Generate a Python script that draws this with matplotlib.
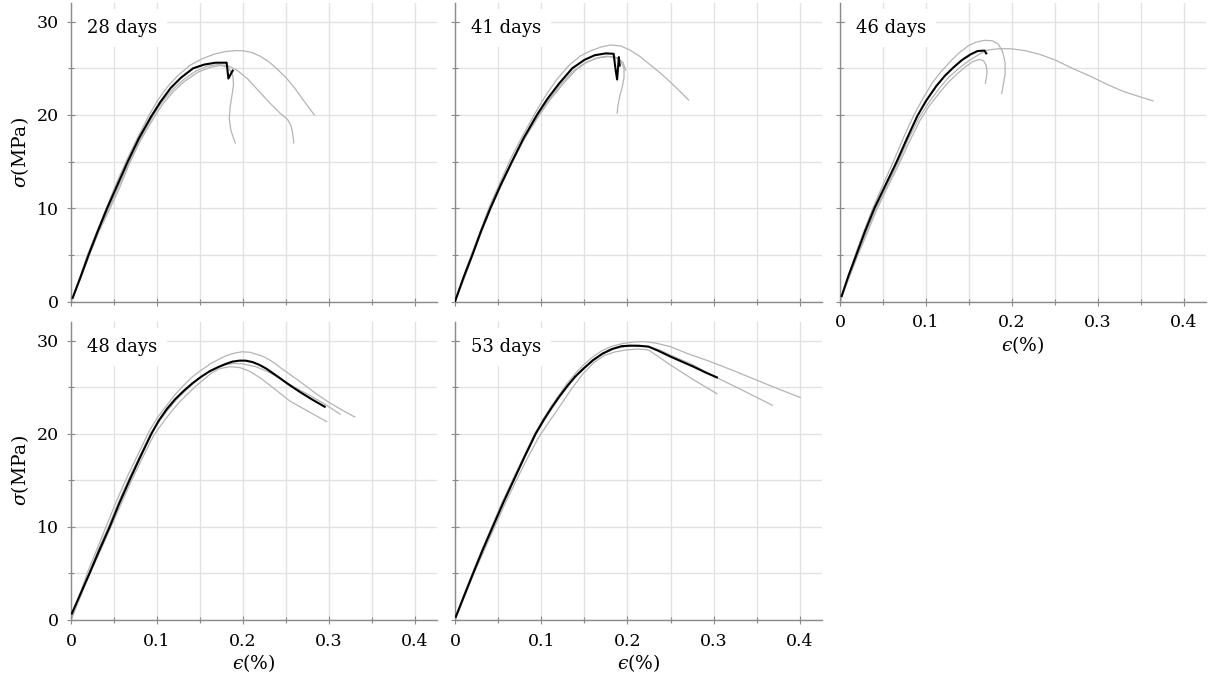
import matplotlib
matplotlib.use("Agg")
import matplotlib.pyplot as plt
from matplotlib.ticker import MultipleLocator

plt.rcParams["font.family"] = "DejaVu Serif"
plt.rcParams["mathtext.fontset"] = "dejavuserif"

# each curve: (strain in %, stress in MPa); "mean" is the black curve
d28_mean = ([0.002, 0.011, 0.0205, 0.031, 0.042, 0.054, 0.066, 0.079, 0.093, 0.104, 0.116, 0.128, 0.142, 0.155, 0.168, 0.181, 0.183, 0.188],
            [0.4, 2.6, 5.0, 7.5, 10.0, 12.5, 15.0, 17.5, 19.8, 21.4, 22.9, 24.0, 25.0, 25.4, 25.6, 25.6, 23.9, 24.75])
d28_a = ([0.0, 0.010, 0.019, 0.030, 0.041, 0.052, 0.064, 0.077, 0.091, 0.101, 0.113, 0.124, 0.138, 0.152, 0.166, 0.180, 0.192, 0.200, 0.210, 0.220, 0.230, 0.240, 0.250, 0.260, 0.270, 0.283],
         [0.0, 2.5, 5.0, 7.5, 10.0, 12.5, 15.0, 17.5, 20.0, 21.6, 23.1, 24.2, 25.3, 26.0, 26.5, 26.8, 26.9, 26.88, 26.7, 26.3, 25.7, 24.9, 24.0, 22.9, 21.6, 20.0])
d28_b = ([0.0, 0.011, 0.021, 0.032, 0.044, 0.056, 0.068, 0.081, 0.096, 0.106, 0.119, 0.131, 0.145, 0.158, 0.170, 0.182, 0.193, 0.205, 0.218, 0.231, 0.243, 0.252, 0.256, 0.258, 0.259],
         [0.0, 2.5, 5.0, 7.5, 10.0, 12.5, 15.0, 17.5, 20.0, 21.4, 22.8, 23.8, 24.7, 25.2, 25.4, 25.3, 24.8, 23.9, 22.6, 21.3, 20.2, 19.5, 18.8, 17.9, 17.0])
d28_c = ([0.0, 0.011, 0.021, 0.032, 0.045, 0.057, 0.068, 0.081, 0.097, 0.107, 0.120, 0.132, 0.148, 0.162, 0.174, 0.183, 0.188, 0.189, 0.187, 0.185, 0.184, 0.186, 0.191],
         [0.0, 2.4, 4.9, 7.4, 9.9, 12.3, 14.8, 17.3, 19.8, 21.2, 22.6, 23.6, 24.6, 25.1, 25.3, 25.1, 24.3, 23.2, 22.0, 20.8, 19.6, 18.3, 17.0])

d41_mean = ([0.0, 0.010, 0.021, 0.030, 0.041, 0.053, 0.066, 0.0795, 0.095, 0.107, 0.121, 0.136, 0.150, 0.162, 0.175, 0.184, 0.186, 0.188, 0.190, 0.191],
            [0.0, 2.6, 5.2, 7.5, 10.0, 12.5, 15.0, 17.5, 20.0, 21.7, 23.4, 25.0, 25.9, 26.4, 26.6, 26.55, 25.0, 23.8, 26.2, 25.3])
d41_a = ([0.0, 0.010, 0.020, 0.030, 0.040, 0.052, 0.064, 0.078, 0.093, 0.104, 0.118, 0.132, 0.145, 0.158, 0.170, 0.180, 0.192, 0.203, 0.214, 0.226, 0.238, 0.250, 0.260, 0.271],
         [0.0, 2.7, 5.3, 7.7, 10.2, 12.7, 15.2, 17.7, 20.2, 21.9, 23.8, 25.3, 26.3, 26.9, 27.3, 27.5, 27.4, 26.95, 26.3, 25.4, 24.5, 23.5, 22.6, 21.6])
d41_b = ([0.0, 0.011, 0.021, 0.031, 0.042, 0.054, 0.067, 0.081, 0.098, 0.110, 0.125, 0.140, 0.152, 0.164, 0.176, 0.186, 0.192, 0.196, 0.196, 0.194, 0.191, 0.189, 0.188],
         [0.0, 2.5, 5.1, 7.5, 10.0, 12.5, 15.0, 17.5, 20.0, 21.6, 23.3, 24.8, 25.6, 26.1, 26.3, 26.2, 25.8, 25.0, 24.0, 23.0, 22.0, 21.0, 20.2])
d41_c = ([0.0, 0.010, 0.021, 0.030, 0.041, 0.053, 0.066, 0.080, 0.097, 0.108, 0.122, 0.137, 0.151, 0.165, 0.178, 0.188, 0.195, 0.198],
         [0.0, 2.6, 5.2, 7.5, 10.0, 12.5, 15.0, 17.5, 20.0, 21.5, 23.2, 24.7, 25.6, 26.1, 26.25, 26.1, 25.6, 24.8])

d46_mean = ([0.002, 0.010, 0.019, 0.029, 0.040, 0.053, 0.066, 0.078, 0.090, 0.100, 0.112, 0.122, 0.132, 0.142, 0.152, 0.160, 0.168, 0.170],
            [0.6, 2.8, 5.0, 7.5, 10.0, 12.5, 15.0, 17.5, 19.9, 21.5, 23.1, 24.2, 25.1, 25.9, 26.5, 26.85, 26.9, 26.6])
d46_a = ([0.0, 0.010, 0.020, 0.030, 0.041, 0.054, 0.067, 0.079, 0.092, 0.103, 0.115, 0.126, 0.137, 0.148, 0.160, 0.171, 0.185, 0.198, 0.215, 0.232, 0.250, 0.270, 0.290, 0.310, 0.330, 0.347, 0.364],
         [0.0, 2.5, 4.9, 7.3, 9.8, 12.3, 14.8, 17.3, 19.7, 21.3, 22.8, 24.0, 24.9, 25.7, 26.4, 26.95, 27.1, 27.1, 26.9, 26.5, 25.9, 25.0, 24.2, 23.3, 22.5, 22.0, 21.5])
d46_b = ([0.0, 0.0095, 0.0185, 0.0285, 0.039, 0.051, 0.063, 0.074, 0.086, 0.096, 0.107, 0.118, 0.129, 0.139, 0.149, 0.158, 0.168, 0.177, 0.184, 0.189, 0.192, 0.192, 0.190, 0.188],
         [0.0, 2.6, 5.2, 7.7, 10.2, 12.7, 15.2, 17.6, 20.0, 21.7, 23.4, 24.7, 25.8, 26.7, 27.4, 27.8, 28.0, 27.95, 27.6, 26.8, 25.6, 24.4, 23.3, 22.3])
d46_c = ([0.0, 0.010, 0.020, 0.031, 0.042, 0.055, 0.068, 0.080, 0.093, 0.104, 0.115, 0.125, 0.135, 0.145, 0.154, 0.162, 0.167, 0.170, 0.171, 0.170, 0.169],
         [0.0, 2.4, 4.8, 7.2, 9.7, 12.2, 14.6, 17.0, 19.4, 21.0, 22.3, 23.4, 24.3, 25.1, 25.7, 25.95, 25.8, 25.3, 24.6, 23.9, 23.4])

d48_mean = ([0.001, 0.011, 0.0215, 0.033, 0.045, 0.056, 0.068, 0.0805, 0.0935, 0.102, 0.111, 0.121, 0.131, 0.141, 0.151, 0.161, 0.171, 0.180, 0.188, 0.196, 0.203, 0.211, 0.219, 0.227, 0.241, 0.253, 0.266, 0.280, 0.295],
            [0.7, 2.8, 5.0, 7.5, 10.0, 12.5, 15.0, 17.5, 20.0, 21.4, 22.6, 23.7, 24.6, 25.4, 26.1, 26.7, 27.15, 27.5, 27.75, 27.85, 27.85, 27.7, 27.4, 27.0, 26.1, 25.3, 24.5, 23.7, 22.9])
d48_a = ([0.0, 0.010, 0.020, 0.031, 0.042, 0.053, 0.065, 0.078, 0.091, 0.101, 0.111, 0.121, 0.131, 0.141, 0.151, 0.162, 0.172, 0.181, 0.190, 0.1985, 0.208, 0.2236, 0.235, 0.245, 0.2663, 0.285, 0.3012, 0.316, 0.330],
         [0.0, 2.7, 5.3, 7.8, 10.3, 12.8, 15.3, 17.8, 20.3, 21.8, 23.0, 24.2, 25.2, 26.1, 26.8, 27.5, 28.0, 28.4, 28.65, 28.8, 28.75, 28.3, 27.7, 27.0, 25.6, 24.3, 23.3, 22.5, 21.8])
d48_b = ([0.0, 0.010, 0.021, 0.032, 0.044, 0.055, 0.067, 0.080, 0.093, 0.103, 0.113, 0.123, 0.133, 0.142, 0.151, 0.161, 0.172, 0.182, 0.190, 0.200, 0.215, 0.228, 0.240, 0.258, 0.272, 0.2856, 0.300, 0.313],
         [0.0, 2.6, 5.1, 7.6, 10.1, 12.6, 15.1, 17.6, 20.1, 21.4, 22.6, 23.7, 24.6, 25.4, 26.1, 26.7, 27.2, 27.45, 27.55, 27.5, 27.2, 26.7, 26.1, 25.1, 24.4, 23.7, 22.9, 22.1])
d48_c = ([0.0, 0.011, 0.022, 0.034, 0.046, 0.058, 0.070, 0.083, 0.096, 0.106, 0.116, 0.126, 0.136, 0.145, 0.154, 0.163, 0.1729, 0.185, 0.1965, 0.208, 0.220, 0.237, 0.2547, 0.276, 0.2973],
         [0.0, 2.5, 5.0, 7.4, 9.9, 12.4, 14.9, 17.4, 19.8, 21.1, 22.3, 23.4, 24.3, 25.1, 25.8, 26.5, 27.0, 27.2, 27.1, 26.7, 26.0, 24.8, 23.5, 22.4, 21.3])

d53_mean = ([0.001, 0.011, 0.021, 0.032, 0.0437, 0.056, 0.068, 0.0805, 0.0935, 0.103, 0.112, 0.121, 0.130, 0.139, 0.149, 0.160, 0.171, 0.182, 0.193, 0.203, 0.213, 0.2243, 0.236, 0.2495, 0.263, 0.2766, 0.290, 0.3037],
            [0.36, 2.7, 5.0, 7.5, 10.0, 12.6, 15.0, 17.5, 20.0, 21.5, 22.8, 24.0, 25.1, 26.1, 27.0, 27.9, 28.6, 29.1, 29.4, 29.46, 29.45, 29.36, 28.9, 28.3, 27.75, 27.2, 26.6, 26.05])
d53_a = ([0.0, 0.010, 0.020, 0.031, 0.043, 0.055, 0.067, 0.080, 0.093, 0.103, 0.112, 0.121, 0.130, 0.139, 0.148, 0.159, 0.170, 0.182, 0.195, 0.207, 0.2185, 0.232, 0.2495, 0.270, 0.296, 0.325, 0.354, 0.378, 0.4003],
         [0.0, 2.6, 5.0, 7.5, 10.1, 12.7, 15.1, 17.6, 20.1, 21.7, 23.0, 24.2, 25.4, 26.4, 27.3, 28.2, 28.9, 29.4, 29.7, 29.85, 29.9, 29.75, 29.36, 28.6, 27.75, 26.7, 25.6, 24.7, 23.9])
d53_b = ([0.0, 0.011, 0.020, 0.032, 0.044, 0.056, 0.068, 0.081, 0.094, 0.104, 0.113, 0.122, 0.131, 0.140, 0.150, 0.161, 0.172, 0.186, 0.200, 0.212, 0.225, 0.237, 0.250, 0.277, 0.304, 0.335, 0.368],
         [0.0, 2.6, 4.9, 7.4, 10.0, 12.6, 15.0, 17.5, 20.0, 21.5, 22.8, 24.0, 25.1, 26.1, 27.0, 27.9, 28.6, 29.15, 29.4, 29.4, 29.35, 29.0, 28.45, 27.35, 26.0, 24.6, 23.06])
d53_c = ([0.0, 0.011, 0.021, 0.033, 0.045, 0.057, 0.070, 0.083, 0.097, 0.107, 0.1219, 0.135, 0.148, 0.1605, 0.173, 0.186, 0.199, 0.212, 0.2243, 0.237, 0.2495, 0.2766, 0.3037],
         [0.0, 2.5, 4.8, 7.3, 9.8, 12.3, 14.8, 17.2, 19.6, 21.0, 23.0, 24.8, 26.4, 27.6, 28.4, 28.8, 29.0, 29.1, 29.0, 28.2, 27.4, 25.8, 24.3])

ages = ["28 days", "41 days", "46 days", "48 days", "53 days"]
means = [d28_mean, d41_mean, d46_mean, d48_mean, d53_mean]
samples = [[d28_a, d28_b, d28_c], [d41_a, d41_b, d41_c], [d46_a, d46_b, d46_c],
           [d48_a, d48_b, d48_c], [d53_a, d53_b, d53_c]]

W, H = 1208, 684
fig = plt.figure(figsize=(W / 100, H / 100), dpi=100)

# panel boxes in pixels: left, top, right, bottom
boxes = [(71, 3, 437, 301.5), (455, 3, 822, 301.5), (840, 3, 1206, 301.5),
         (71, 322, 437, 620), (455, 322, 822, 620)]
ylabel_on = [True, False, False, True, False]
xlabel_on = [False, False, True, True, True]

for i, (l, t, r, b) in enumerate(boxes):
    ax = fig.add_axes([l / W, 1 - b / H, (r - l) / W, (b - t) / H])
    ax.set_xlim(0, 0.4256)
    ax.set_ylim(0, 32)
    ax.xaxis.set_major_locator(MultipleLocator(0.1))
    ax.xaxis.set_minor_locator(MultipleLocator(0.05))
    ax.yaxis.set_major_locator(MultipleLocator(10))
    ax.yaxis.set_minor_locator(MultipleLocator(5))
    ax.grid(True, which="both", color="#e2e2e2", linewidth=1.0)
    ax.set_axisbelow(True)
    for side in ["top", "right"]:
        ax.spines[side].set_visible(False)
    for side in ["left", "bottom"]:
        ax.spines[side].set_color("#8a8a8a")
        ax.spines[side].set_linewidth(1.0)
    ax.tick_params(which="both", direction="inout", length=6, width=0.8, color="#8a8a8a",
                   labelsize=12.5, pad=6)
    ax.tick_params(which="minor", length=5)
    ax.xaxis.set_major_formatter(plt.FuncFormatter(lambda v, p: "0" if v == 0 else ("%g" % round(v, 2))))

    for sx, sy in samples[i]:
        ax.plot(sx, sy, color="#b4b4b4", linewidth=0.9, zorder=2)
    mx, my = means[i]
    ax.plot(mx, my, color="black", linewidth=1.5, zorder=3, solid_joinstyle="round")

    ax.text(0.044, 0.9, ages[i], transform=ax.transAxes, fontsize=13, zorder=4,
            bbox=dict(facecolor="white", edgecolor="none", pad=7))

    if ylabel_on[i]:
        ax.set_ylabel(r"$\sigma$(MPa)", fontsize=13.5, labelpad=4)
    else:
        ax.tick_params(axis="y", which="both", labelleft=False)
    if xlabel_on[i]:
        ax.set_xlabel("$\u03f5$(%)", fontsize=13.5, labelpad=2)
    else:
        ax.tick_params(axis="x", which="both", labelbottom=False)

fig.savefig("out.png", dpi=100)
